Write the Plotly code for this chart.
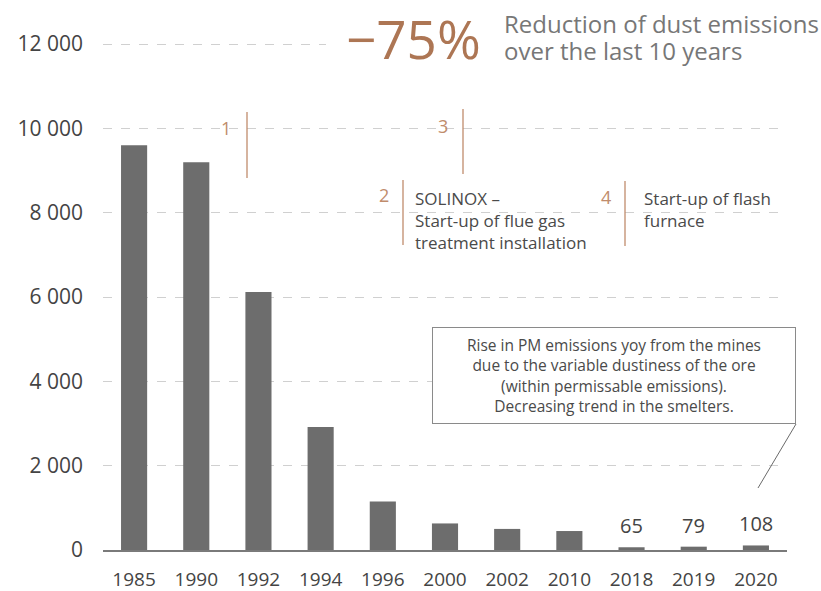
import plotly.graph_objects as go

years = ["1985", "1990", "1992", "1994", "1996", "2000", "2002", "2010", "2018", "2019", "2020"]
emissions = [9600, 9200, 6120, 2920, 1150, 630, 500, 450, 65, 79, 108]
labelled_years = ["2018", "2019", "2020"]
y_ticks = [0, 2000, 4000, 6000, 8000, 10000, 12000]

headline_value = "\u221275%"
headline_lines = ["Reduction of dust emissions", "over the last 10 years"]
events = [
    ("1", ""),
    ("2", "SOLINOX \u2013<br>Start-up of flue gas<br>treatment installation"),
    ("3", ""),
    ("4", "Start-up of flash<br>furnace"),
]
callout_text = ("Rise in PM emissions yoy from the mines<br>due to the variable dustiness of the ore<br>"
                "(within permissable emissions).<br>Decreasing trend in the smelters.")

W, H = 821, 591
L, R, T, B = 103, 34, 42, 41
PW, PH = W - L - R, H - T - B


def px(x):
    return (x - L) / PW


def py(y):
    return (H - B - y) / PH


FONT = "Open Sans"
BROWN = "#ad7654"
LINE_BROWN = "#c08c6c"
GRAY_TXT = "#444444"

fig = go.Figure()
fig.add_trace(go.Bar(x=years, y=emissions, marker=dict(color="#6d6d6d", line=dict(width=0)),
                     hoverinfo="x+y"))

annotations = []
# data labels
for i, (yr, v) in enumerate(zip(years, emissions)):
    if yr in labelled_years:
        annotations.append(dict(x=i, y=v, xref="x", yref="y", text=str(v), showarrow=False,
                                yanchor="bottom", yshift=6,
                                font=dict(family=FONT, size=20, color=GRAY_TXT)))

# headline
annotations.append(dict(x=px(413), y=py(38), xref="paper", yref="paper", text=headline_value,
                        showarrow=False, xanchor="center", yanchor="middle",
                        font=dict(family=FONT, size=53, color=BROWN)))
for k, line in enumerate(headline_lines):
    annotations.append(dict(x=px(502), y=py(23 + 28 * k), xref="paper", yref="paper", text=line,
                            showarrow=False, xanchor="left", yanchor="middle", align="left",
                            font=dict(family=FONT, size=24, color="#777777")))

# event numbers
num_pos = {"1": (226, 128), "2": (384, 195), "3": (443, 126), "4": (606, 197)}
for num, txt in events:
    x0, y0 = num_pos[num]
    annotations.append(dict(x=px(x0), y=py(y0), xref="paper", yref="paper", text=num,
                            showarrow=False, xanchor="center", yanchor="middle",
                            font=dict(family=FONT, size=18, color=LINE_BROWN)))
text_pos = {"2": (413, 220), "4": (642, 210)}
for num, txt in events:
    if txt:
        x0, y0 = text_pos[num]
        annotations.append(dict(x=px(x0), y=py(y0), xref="paper", yref="paper", text=txt,
                                showarrow=False, xanchor="left", yanchor="middle", align="left",
                                font=dict(family=FONT, size=17, color="#4a4a4a")))

# callout box
annotations.append(dict(x=px(614), y=py(375.5), xref="paper", yref="paper", text=callout_text,
                        showarrow=False, xanchor="center", yanchor="middle", align="center",
                        width=362, height=95, bordercolor="#8a8a8a", borderwidth=1, borderpad=0,
                        bgcolor="white",
                        font=dict(family=FONT, size=15.5, color="#4a4a4a")))

shapes = []
# white mask over top gridline behind headline
shapes.append(dict(type="rect", xref="paper", yref="paper", x0=px(326), x1=px(792),
                   y0=py(50), y1=py(36), fillcolor="white", line=dict(width=0), layer="above"))
vlines = [(247, 112, 178), (463, 109, 174), (403, 180, 245), (625, 181, 246)]
for x0, ya, yb in vlines:
    shapes.append(dict(type="line", xref="paper", yref="paper", x0=px(x0), x1=px(x0),
                       y0=py(ya), y1=py(yb), line=dict(color=LINE_BROWN, width=1.3)))
shapes.append(dict(type="line", xref="paper", yref="paper", x0=px(796), x1=px(758),
                   y0=py(424), y1=py(488), line=dict(color="#6a6a6a", width=1)))

fig.update_layout(
    width=W, height=H,
    margin=dict(l=L, r=R, t=T, b=B),
    paper_bgcolor="white", plot_bgcolor="white",
    bargap=0.58,
    showlegend=False,
    separators=". ",
    annotations=annotations,
    shapes=shapes,
    font=dict(family=FONT),
)
fig.update_xaxes(type="category", categoryorder="array", categoryarray=years,
                 range=[-0.5, len(years) - 0.5], autorange=False, automargin=False,
                 showgrid=False, showline=True, linecolor="#7a7a7a", linewidth=1.5,
                 ticks="", ticklabelstandoff=11,
                 tickfont=dict(family=FONT, size=19, color=GRAY_TXT))
fig.update_yaxes(range=[0, 12050], autorange=False, automargin=False,
                 tickvals=y_ticks, tickformat=",d", showgrid=True,
                 gridcolor="#d0d0d0", griddash="dash", gridwidth=1, zeroline=False,
                 showline=False, ticks="", ticklabelstandoff=19,
                 tickfont=dict(family=FONT, size=21, color=GRAY_TXT))

fig.write_html("out.html", config={"displayModeBar": False},
               post_script="document.body.style.margin='0';document.body.style.overflow='hidden';")
